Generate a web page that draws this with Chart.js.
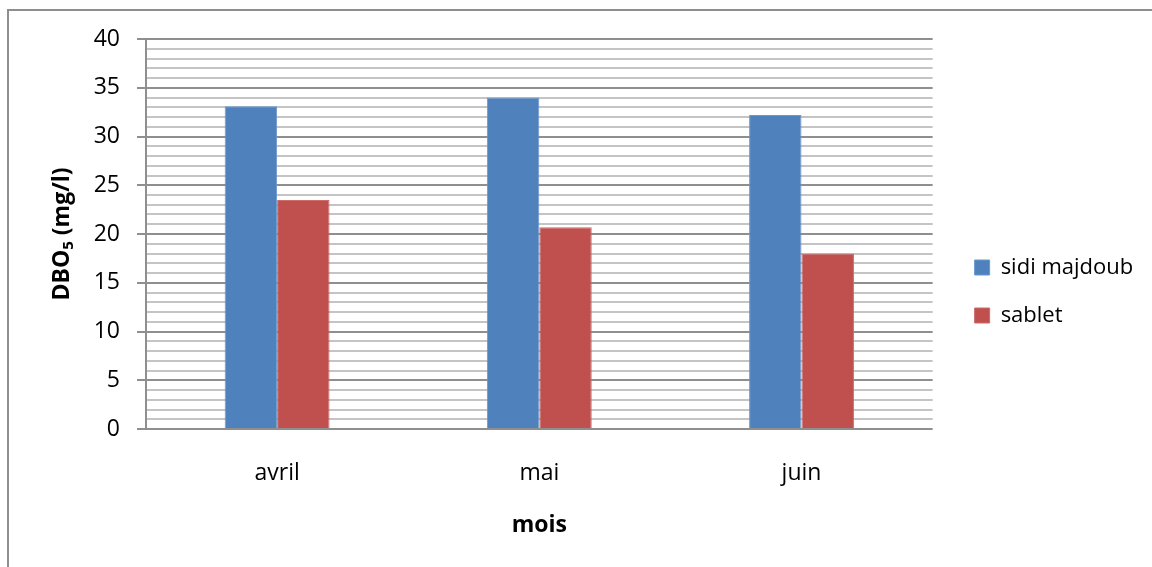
<!DOCTYPE html>
<html>
<head>
<meta charset="utf-8">
<script src="https://cdn.jsdelivr.net/npm/chart.js@4.4.1/dist/chart.umd.min.js"></script>
<style>
  html, body { margin: 0; padding: 0; background: #ffffff; }
  #wrap { position: relative; width: 1152px; height: 567px; overflow: hidden; }
  #wrap canvas { position: absolute; left: 0; top: 0; }
  #frame {
    position: absolute; left: 7px; top: 9px; right: -4px; bottom: -4px;
    border-left: 2px solid #8e8e8e; border-top: 2px solid #8e8e8e;
    pointer-events: none;
  }
</style>
</head>
<body>
<div id="wrap">
  <canvas id="chart" width="1152" height="567"></canvas>
  <div id="frame"></div>
</div>
<script>
// Categories and series
const months = ['avril', 'mai', 'juin'];
const sidiMajdoub = [33.1, 34.0, 32.2];
const sablet = [23.5, 20.7, 18.0];
const seriesNames = ['sidi majdoub', 'sablet'];

// Axis text
const yTitleMain = 'DBO';
const yTitleSub = '5';
const yTitleRest = ' (mg/l)';
const xTitleText = 'mois';

// Value axis range and labelled ticks
const yMin = 0;
const yMax = 40;
const yLabelStep = 5;

const FONT = "'Open Sans', 'Liberation Sans', sans-serif";
const BLUE = '#4f81bd';
const RED = '#c0504d';
const MAJOR_GRID = '#8f8f8f';
const MINOR_GRID = '#c4c4c4';

// Layout targets (pixels)
const PLOT_LEFT = 146;
const PLOT_RIGHT = 931;
const PAD_LEFT = 9;
const PAD_TOP = 39;
const PAD_BOTTOM = 23;
const PLOT_BOTTOM = 429;
const LEGEND_GAP = 16;
const LEGEND_FONT = 22;
const LEGEND_BOX = 15;
const TICK_FONT = 23;

// Width of the legend box, so the plot ends where it should
const measureCtx = document.createElement('canvas').getContext('2d');
measureCtx.font = LEGEND_FONT + 'px ' + FONT;
const widestName = Math.max(...seriesNames.map(n => measureCtx.measureText(n).width));
const legendWidth = 21 + 10 + LEGEND_BOX + LEGEND_FONT / 2 + widestName;
const padRight = Math.max(0, 1152 - PLOT_RIGHT - LEGEND_GAP - legendWidth);

// Rotated value-axis title with a subscript
const yTitlePlugin = {
  id: 'yTitleSubscript',
  afterDraw(chart) {
    const { ctx, chartArea } = chart;
    const mainFont = 'bold 23px ' + FONT;
    const subFont = 'bold 15px ' + FONT;
    ctx.save();
    ctx.font = mainFont;
    const w1 = ctx.measureText(yTitleMain).width;
    const w3 = ctx.measureText(yTitleRest).width;
    ctx.font = subFont;
    const w2 = ctx.measureText(yTitleSub).width;
    const total = w1 + w2 + w3;
    ctx.translate(69, (chartArea.top + chartArea.bottom) / 2);
    ctx.rotate(-Math.PI / 2);
    ctx.fillStyle = '#000000';
    ctx.textBaseline = 'alphabetic';
    ctx.textAlign = 'left';
    let x = -total / 2;
    ctx.font = mainFont;
    ctx.fillText(yTitleMain, x, 0);
    x += w1;
    ctx.font = subFont;
    ctx.fillText(yTitleSub, x, 4);
    x += w2;
    ctx.font = mainFont;
    ctx.fillText(yTitleRest, x, 0);
    ctx.restore();
  }
};

new Chart(document.getElementById('chart'), {
  type: 'bar',
  data: {
    labels: months,
    datasets: [
      {
        label: seriesNames[0],
        data: sidiMajdoub,
        backgroundColor: BLUE,
        borderColor: '#6b97cc',
        borderWidth: 1,
        borderSkipped: 'bottom'
      },
      {
        label: seriesNames[1],
        data: sablet,
        backgroundColor: RED,
        borderColor: '#cc6b68',
        borderWidth: 1,
        borderSkipped: 'bottom'
      }
    ]
  },
  options: {
    responsive: false,
    animation: false,
    devicePixelRatio: 1,
    categoryPercentage: 0.4,
    barPercentage: 1.0,
    layout: {
      padding: { left: PAD_LEFT, top: PAD_TOP, bottom: PAD_BOTTOM, right: padRight }
    },
    plugins: {
      tooltip: { enabled: false },
      title: { display: false },
      legend: {
        position: 'right',
        align: 'center',
        labels: {
          color: '#000000',
          font: { family: FONT, size: LEGEND_FONT },
          boxWidth: LEGEND_BOX,
          boxHeight: LEGEND_BOX,
          padding: 26
        }
      }
    },
    scales: {
      x: {
        grid: { display: false },
        border: { display: false },
        ticks: {
          color: '#000000',
          font: { family: FONT, size: TICK_FONT },
          padding: 23,
          maxRotation: 0
        },
        title: {
          display: true,
          text: xTitleText,
          color: '#000000',
          font: { family: FONT, size: 23, weight: 'bold' },
          padding: { top: 0, bottom: 5 }
        },
        afterFit(scale) { scale.height = 567 - PAD_BOTTOM - PLOT_BOTTOM; }
      },
      y: {
        min: yMin,
        max: yMax,
        grid: {
          color: ctx => (ctx.tick && ctx.tick.value % yLabelStep === 0) ? MAJOR_GRID : MINOR_GRID,
          tickColor: ctx => (ctx.tick && ctx.tick.value % yLabelStep === 0) ? MAJOR_GRID : 'rgba(0,0,0,0)',
          lineWidth: 2,
          tickWidth: 2,
          tickLength: 9
        },
        border: { display: true, color: MAJOR_GRID, width: 2 },
        ticks: {
          stepSize: 1,
          autoSkip: false,
          color: '#000000',
          font: { family: FONT, size: TICK_FONT },
          padding: 17,
          callback: v => (v % yLabelStep === 0 ? String(v) : '')
        },
        afterFit(scale) { scale.width = PLOT_LEFT - PAD_LEFT; }
      },
      gap: {
        type: 'linear',
        position: 'right',
        display: true,
        grid: { display: false },
        border: { display: false },
        ticks: { display: false },
        afterFit(scale) { scale.width = LEGEND_GAP; }
      }
    }
  },
  plugins: [yTitlePlugin]
});
</script>
</body>
</html>
